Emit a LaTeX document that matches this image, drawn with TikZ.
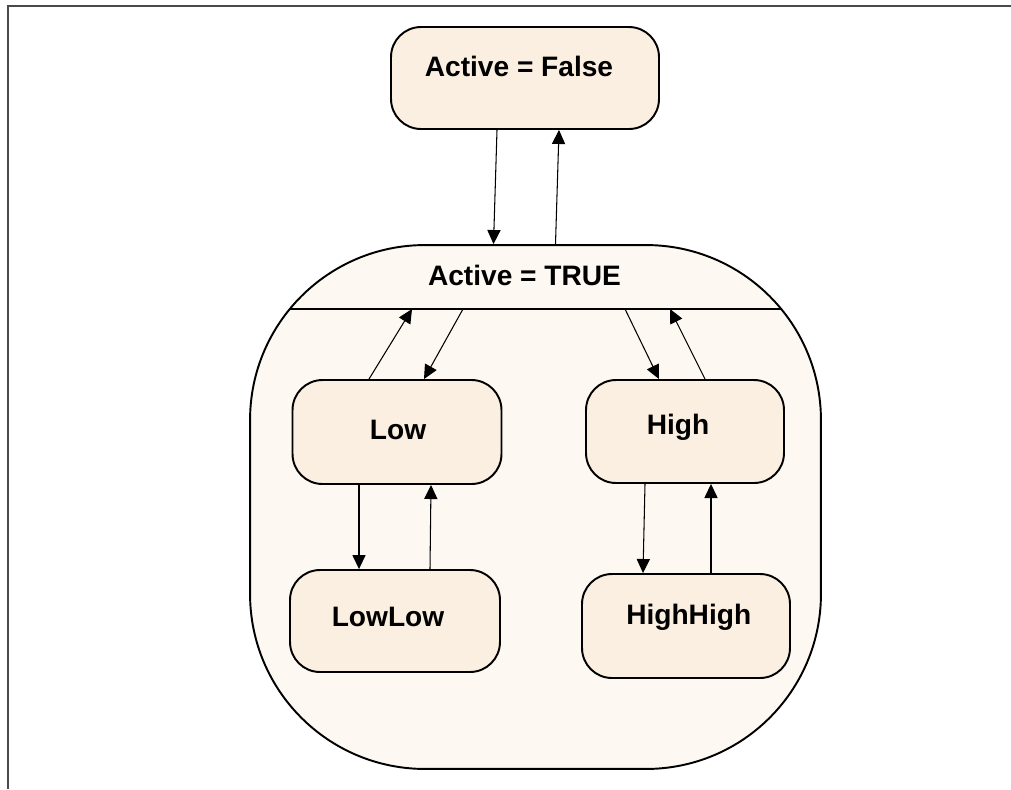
\documentclass[tikz,border=0pt]{standalone}
\usepackage{fontspec}
\setmainfont{Liberation Sans}
\usetikzlibrary{arrows.meta}
\definecolor{boxfill}{HTML}{FAEFE0}
\definecolor{outerfill}{HTML}{FDF9F2}
\definecolor{framegray}{HTML}{4A4A4A}
\def\u{0.02cm}
\begin{document}
\begin{tikzpicture}[x=0.02cm, y=-0.02cm,
statebox/.style={draw, line width=1.1pt, fill=boxfill, rounded corners=0.6cm, inner sep=0pt},
superstate/.style={draw, line width=1.1pt, fill=outerfill, rounded corners=3.5cm, inner sep=0pt},
stext/.style={font=\fontsize{16}{19}\selectfont\bfseries, text height=11.46pt, text depth=0pt, inner sep=0pt},
trans/.style={-{Triangle[length=8pt,width=7.5pt]}, line width=0.6pt}]
\useasboundingbox (0,0) rectangle (1011,789);
%frame
\draw[framegray, line width=1.3pt] (1011,6) -- (8,6) -- (8,789);

%outer state with its header
\node[superstate, minimum width=11.42cm, minimum height=10.48cm] (atrue) at (535.5,507) {};
\coordinate (divw) at (290,309);
\coordinate (dive) at (781,309);
\draw[line width=1.1pt] (divw) -- (dive);
\node[stext] (atruetext) at (524.5,275.5) {Active = TRUE};

%states
\node[statebox, minimum width=5.36cm, minimum height=2.04cm] (afalse) at (525,78) {};
\node[stext] (afalsetext) at (519,66) {Active = False};
\node[statebox, minimum width=4.18cm, minimum height=2.08cm] (low) at (397,432) {};
\node[stext] (lowtext) at (398,429.5) {Low};
\node[statebox, minimum width=4.2cm, minimum height=2.04cm] (lowlow) at (395,621) {};
\node[stext] (lowlowtext) at (388,616.5) {LowLow};
\node[statebox, minimum width=3.96cm, minimum height=2.06cm] (high) at (685,431.5) {};
\node[stext] (hightext) at (678,424.5) {High};
\node[statebox, minimum width=4.16cm, minimum height=2.08cm] (highhigh) at (686,626) {};
\node[stext] (highhightext) at (688.7,614.5) {HighHigh};

%end points on the header line
\coordinate (d1) at (412,309);
\coordinate (d2) at (463,309);
\coordinate (d3) at (625,309);
\coordinate (d4) at (670,309);

%transitions
\draw[trans] ([xshift=-28*\u]afalse.south) -- ([xshift=-42*\u]atrue.north);
\draw[trans] ([xshift=20*\u]atrue.north) -- ([xshift=34*\u]afalse.south);
\draw[trans] ([xshift=-28*\u]low.north) -- (d1);
\draw[trans] (d2) -- ([xshift=27*\u]low.north);
\draw[trans] (d3) -- ([xshift=-26*\u]high.north);
\draw[trans] ([xshift=20*\u]high.north) -- (d4);
\draw[trans] ([xshift=-38*\u]low.south) -- ([xshift=-36*\u]lowlow.north);
\draw[trans] ([xshift=35*\u]lowlow.north) -- ([xshift=34*\u]low.south);
\draw[trans] ([xshift=-40*\u]high.south) -- ([xshift=-43*\u]highhigh.north);
\draw[trans] ([xshift=25*\u]highhigh.north) -- ([xshift=26*\u]high.south);
\end{tikzpicture}
\end{document}
